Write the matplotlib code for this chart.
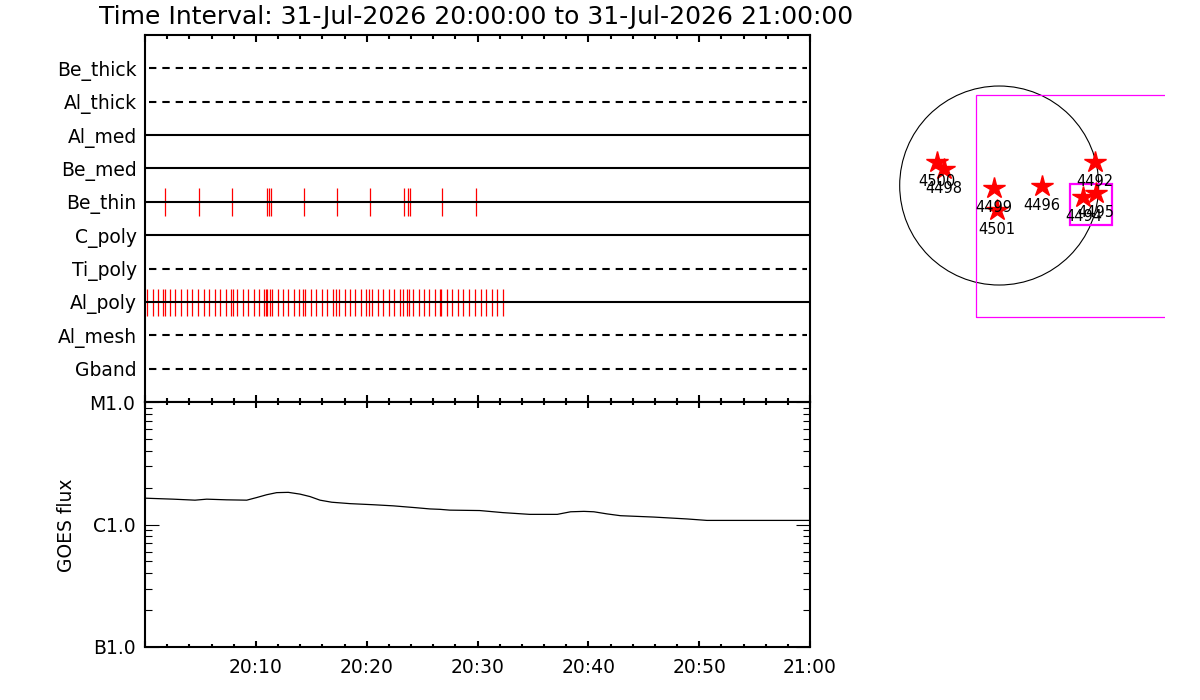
import matplotlib
matplotlib.use('Agg')
import matplotlib.pyplot as plt
from matplotlib.patches import Circle, Rectangle
from matplotlib.ticker import MultipleLocator, LogLocator, NullFormatter

plt.rcParams['font.family'] = ['DejaVu Sans']
plt.rcParams['lines.scale_dashes'] = False

# ---------------- data ----------------
title_text = "Time Interval: 31-Jul-2026 20:00:00 to 31-Jul-2026 21:00:00"

channels = ['Be_thick', 'Al_thick', 'Al_med', 'Be_med', 'Be_thin',
            'C_poly', 'Ti_poly', 'Al_poly', 'Al_mesh', 'Gband']
dashed_channels = ['Be_thick', 'Al_thick', 'Ti_poly', 'Al_mesh', 'Gband']

# minutes after 20:00
be_thin_times = [1.83, 4.90, 7.88, 10.98, 11.22, 11.40, 14.37, 17.35, 20.33,
                 23.40, 23.76, 23.91, 26.83, 29.90]
al_poly_times = [0.21, 0.69, 1.20, 1.65, 1.80, 2.28, 2.73, 3.28, 3.82, 4.27,
                 4.81, 5.35, 5.80, 6.34, 6.79, 7.34, 7.79, 7.91, 8.33, 8.87,
                 9.32, 9.86, 10.31, 10.76, 10.89, 11.01, 11.31, 11.49, 12.03,
                 12.48, 12.93, 13.47, 13.92, 14.28, 14.46, 15.00, 15.46, 16.00,
                 16.45, 16.99, 17.26, 17.53, 18.07, 18.52, 18.98, 19.52, 19.97,
                 20.24, 20.51, 21.05, 21.50, 22.04, 22.49, 23.04, 23.31, 23.67,
                 23.85, 24.21, 24.75, 25.20, 25.65, 26.19, 26.64, 26.74, 27.28,
                 27.73, 28.27, 28.72, 29.26, 29.80, 30.34, 30.79, 31.34, 31.79,
                 32.33]

goes_minutes = [0.0, 2.55, 4.51, 5.57, 7.37, 9.18, 10.08, 10.98, 11.88, 12.93,
                13.99, 14.89, 15.79, 16.85, 18.5, 20.6, 22.4, 24.5, 25.7, 26.6,
                27.5, 30.2, 32.3, 34.7, 37.2, 38.4, 39.6, 40.5, 41.7, 42.9,
                45.9, 48.9, 50.7, 60.0]
goes_flux = [1.64e-6, 1.61e-6, 1.58e-6, 1.61e-6, 1.59e-6, 1.58e-6, 1.66e-6,
             1.75e-6, 1.82e-6, 1.83e-6, 1.77e-6, 1.69e-6, 1.58e-6, 1.52e-6,
             1.48e-6, 1.45e-6, 1.42e-6, 1.37e-6, 1.34e-6, 1.33e-6, 1.31e-6,
             1.30e-6, 1.25e-6, 1.21e-6, 1.21e-6, 1.27e-6, 1.28e-6, 1.27e-6,
             1.22e-6, 1.18e-6, 1.15e-6, 1.11e-6, 1.08e-6, 1.08e-6]

time_tick_minutes = [0, 10, 20, 30, 40, 50, 60]
time_tick_labels = ['', '20:10', '20:20', '20:30', '20:40', '20:50', '21:00']
goes_tick_values = [1e-7, 1e-6, 1e-5]
goes_tick_labels = ['B1.0', 'C1.0', 'M1.0']

region_ids = ['4500', '4498', '4499', '4501', '4496', '4492', '4494', '4495']
region_x = [-603, -530, -50, -24, 410, 924, 812, 934]      # arcsec
region_y = [230, 156, -27, -236, -5, 230, -108, -75]         # arcsec
solar_radius = 960
fov_big = [-221, -1272, 4000, 2142]       # x0, y0, width, height
fov_small = [686, -381, 405, 398]

# ---------------- figure ----------------
W, H = 1200, 700
fig = plt.figure(figsize=(12, 7), dpi=100)

def px_axes(x0, y0, x1, y1):
    return [x0 / W, 1 - y1 / H, (x1 - x0) / W, (y1 - y0) / H]

fig.text(476 / W, 1 - 17 / H, title_text, ha='center', va='center', fontsize=18)

# ---- top panel: channel timelines ----
ax1 = fig.add_axes(px_axes(145, 35, 810, 402))
ax1.set_xlim(0, 60)
ax1.set_ylim(0, 11)
row_y = {name: 10 - i for i, name in enumerate(channels)}
ax1.vlines(be_thin_times, row_y['Be_thin'] - 0.42, row_y['Be_thin'] + 0.4,
           color='red', lw=0.9, zorder=2)
ax1.vlines(al_poly_times, row_y['Al_poly'] - 0.42, row_y['Al_poly'] + 0.4,
           color='red', lw=0.9, zorder=2)
for name in channels:
    dashed = name in dashed_channels
    ls = (0, (5.3, 4.3)) if dashed else '-'
    ax1.plot([0.4 if dashed else 0, 59.7 if dashed else 60],
             [row_y[name]] * 2, color='black', lw=1.5, ls=ls, zorder=3)
ax1.set_yticks([row_y[n] for n in channels], channels)
ax1.tick_params(axis='y', length=0, pad=6, labelsize=13.5)
ax1.xaxis.set_major_locator(MultipleLocator(10))
ax1.xaxis.set_minor_locator(MultipleLocator(2))
ax1.tick_params(axis='x', which='both', direction='in', top=True, bottom=True,
                labelbottom=False, width=1.5)
ax1.tick_params(axis='x', which='major', length=5)
ax1.tick_params(axis='x', which='minor', length=3)
for s in ax1.spines.values():
    s.set_linewidth(1.5)

# ---- bottom panel: GOES flux ----
ax2 = fig.add_axes(px_axes(145, 402, 810, 647))
ax2.set_yscale('log')
ax2.set_xlim(0, 60)
ax2.set_ylim(1e-7, 1e-5)
ax2.plot(goes_minutes, goes_flux, color='black', lw=0.9)
ax2.set_yticks(goes_tick_values, goes_tick_labels)
ax2.yaxis.set_minor_locator(LogLocator(base=10, subs=[2, 3, 4, 5, 6, 7, 8, 9]))
ax2.yaxis.set_minor_formatter(NullFormatter())
ax2.tick_params(axis='y', which='both', direction='in', left=True, right=True,
                width=0.8, labelsize=13.5, pad=7)
ax2.tick_params(axis='y', which='major', length=10)
ax2.tick_params(axis='y', which='minor', length=5)
ax2.set_xticks(time_tick_minutes, time_tick_labels)
ax2.xaxis.set_minor_locator(MultipleLocator(2))
ax2.tick_params(axis='x', which='both', direction='in', top=True, bottom=True,
                width=1.5, labelsize=13.5, pad=8)
ax2.tick_params(axis='x', which='major', length=4)
ax2.tick_params(axis='x', which='minor', length=2)
for s in ax2.spines.values():
    s.set_linewidth(1.5)
fig.text(67 / W, 1 - 525 / H, 'GOES flux', rotation=90, ha='center',
         va='center', fontsize=13.5)

# ---- right panel: solar disk with regions ----
ax3 = fig.add_axes(px_axes(880, 60, 1165, 330))
ax3.set_xlim(-1150, 1600)
ax3.set_ylim(-1394, 1211)
ax3.axis('off')
ax3.add_patch(Circle((0, 0), solar_radius, fill=False, ec='black', lw=0.8))
ax3.add_patch(Rectangle((fov_big[0], fov_big[1]), fov_big[2], fov_big[3],
                        fill=False, ec='#ff00ff', lw=0.9))
ax3.add_patch(Rectangle((fov_small[0], fov_small[1]), fov_small[2], fov_small[3],
                        fill=False, ec='#ff00ff', lw=1.6))
ax3.plot(region_x, region_y, ls='none', marker='*', color='red', mec='red',
         ms=16, clip_on=False, zorder=4)
for rid, x, y in zip(region_ids, region_x, region_y):
    ax3.annotate(rid, (x, y), xytext=(0, -14), textcoords='offset points',
                 ha='center', va='center', fontsize=10.5, zorder=5,
                 annotation_clip=False)

fig.savefig('out.png', dpi=100)
